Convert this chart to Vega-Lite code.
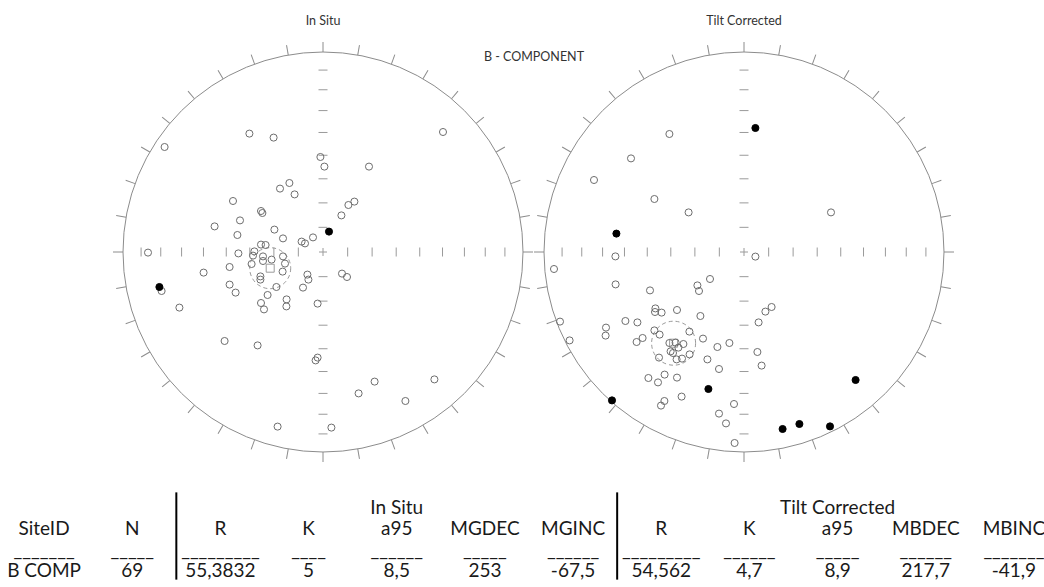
{
  "$schema": "https://vega.github.io/schema/vega-lite/v6.json",
  "padding": 0,
  "background": "white",
  "config": {"view": {"stroke": null}, "font": "Lato"},
  "datasets": {
    "net": [{"part": "primitive"}],
    "ticks": [{"az":0},{"az":10},{"az":20},{"az":30},{"az":40},{"az":50},{"az":60},{"az":70},{"az":80},{"az":90},{"az":100},{"az":110},{"az":120},{"az":130},{"az":140},{"az":150},{"az":160},{"az":170},{"az":180},{"az":190},{"az":200},{"az":210},{"az":220},{"az":230},{"az":240},{"az":250},{"az":260},{"az":270},{"az":280},{"az":290},{"az":300},{"az":310},{"az":320},{"az":330},{"az":340},{"az":350}],
    "grat": [{"r":0.1233},{"r":0.2456},{"r":0.366},{"r":0.4837},{"r":0.5976},{"r":0.7071},{"r":0.8112},{"r":0.9096},{"r":-0.1233},{"r":-0.2456},{"r":-0.366},{"r":-0.4837},{"r":-0.5976},{"r":-0.7071},{"r":-0.8112},{"r":-0.9096}],
    "meanL": [{"x":-0.264,"y":-0.081}],
    "meanR": [{"x":-0.352,"y":-0.456}],
    "insitu": [
      {"x":-0.368,"y":0.592,"t":"open"},{"x":-0.247,"y":0.572,"t":"open"},{"x":-0.792,"y":0.525,"t":"open"},{"x":0.6,"y":0.6,"t":"open"},{"x":-0.013,"y":0.475,"t":"open"},{"x":0.007,"y":0.427,"t":"open"},{"x":0.23,"y":0.427,"t":"open"},{"x":-0.168,"y":0.345,"t":"open"},{"x":-0.215,"y":0.317,"t":"open"},{"x":-0.142,"y":0.288,"t":"open"},{"x":-0.45,"y":0.255,"t":"open"},{"x":0.157,"y":0.252,"t":"open"},{"x":0.127,"y":0.235,"t":"open"},{"x":-0.31,"y":0.205,"t":"open"},{"x":-0.303,"y":0.195,"t":"open"},{"x":0.092,"y":0.183,"t":"open"},{"x":-0.415,"y":0.158,"t":"open"},{"x":-0.542,"y":0.128,"t":"open"},{"x":-0.243,"y":0.112,"t":"open"},{"x":-0.428,"y":0.085,"t":"open"},{"x":-0.2,"y":0.068,"t":"open"},{"x":-0.05,"y":0.073,"t":"open"},{"x":-0.107,"y":0.052,"t":"open"},{"x":-0.09,"y":0.043,"t":"open"},{"x":-0.31,"y":0.037,"t":"open"},{"x":-0.287,"y":0.035,"t":"open"},{"x":-0.875,"y":-0.003,"t":"open"},{"x":-0.423,"y":-0.007,"t":"open"},{"x":-0.343,"y":0.003,"t":"open"},{"x":-0.35,"y":-0.018,"t":"open"},{"x":-0.3,"y":-0.022,"t":"open"},{"x":-0.257,"y":-0.038,"t":"open"},{"x":-0.2,"y":-0.022,"t":"open"},{"x":-0.3,"y":-0.045,"t":"open"},{"x":-0.357,"y":-0.06,"t":"open"},{"x":-0.19,"y":-0.058,"t":"open"},{"x":-0.467,"y":-0.075,"t":"open"},{"x":-0.202,"y":-0.098,"t":"open"},{"x":-0.597,"y":-0.103,"t":"open"},{"x":-0.078,"y":-0.113,"t":"open"},{"x":-0.313,"y":-0.122,"t":"open"},{"x":-0.313,"y":-0.138,"t":"open"},{"x":0.095,"y":-0.108,"t":"open"},{"x":0.12,"y":-0.125,"t":"open"},{"x":-0.073,"y":-0.138,"t":"open"},{"x":-0.233,"y":-0.175,"t":"open"},{"x":-0.1,"y":-0.178,"t":"open"},{"x":-0.467,"y":-0.163,"t":"open"},{"x":-0.437,"y":-0.203,"t":"open"},{"x":-0.807,"y":-0.195,"t":"open"},{"x":-0.277,"y":-0.215,"t":"open"},{"x":-0.182,"y":-0.237,"t":"open"},{"x":-0.183,"y":-0.272,"t":"open"},{"x":-0.31,"y":-0.255,"t":"open"},{"x":-0.295,"y":-0.287,"t":"open"},{"x":-0.027,"y":-0.258,"t":"open"},{"x":-0.718,"y":-0.278,"t":"open"},{"x":-0.492,"y":-0.445,"t":"open"},{"x":-0.327,"y":-0.467,"t":"open"},{"x":-0.027,"y":-0.528,"t":"open"},{"x":-0.037,"y":-0.542,"t":"open"},{"x":0.258,"y":-0.648,"t":"open"},{"x":0.557,"y":-0.637,"t":"open"},{"x":0.178,"y":-0.707,"t":"open"},{"x":0.412,"y":-0.745,"t":"open"},{"x":-0.227,"y":-0.873,"t":"open"},{"x":0.042,"y":-0.878,"t":"open"},
      {"x":0.03,"y":0.102,"t":"filled"},{"x":-0.818,"y":-0.175,"t":"filled"}
    ],
    "tilt": [
      {"x":-0.373,"y":0.59,"t":"open"},{"x":-0.565,"y":0.468,"t":"open"},{"x":-0.75,"y":0.36,"t":"open"},{"x":-0.448,"y":0.265,"t":"open"},{"x":-0.277,"y":0.198,"t":"open"},{"x":0.435,"y":0.198,"t":"open"},{"x":-0.643,"y":-0.022,"t":"open"},{"x":0.057,"y":-0.023,"t":"open"},{"x":-0.95,"y":-0.085,"t":"open"},{"x":-0.642,"y":-0.162,"t":"open"},{"x":-0.17,"y":-0.135,"t":"open"},{"x":-0.233,"y":-0.167,"t":"open"},{"x":-0.225,"y":-0.195,"t":"open"},{"x":-0.47,"y":-0.192,"t":"open"},{"x":0.138,"y":-0.275,"t":"open"},{"x":0.107,"y":-0.298,"t":"open"},{"x":-0.443,"y":-0.282,"t":"open"},{"x":-0.445,"y":-0.3,"t":"open"},{"x":-0.412,"y":-0.303,"t":"open"},{"x":-0.335,"y":-0.29,"t":"open"},{"x":-0.218,"y":-0.32,"t":"open"},{"x":0.073,"y":-0.352,"t":"open"},{"x":-0.92,"y":-0.348,"t":"open"},{"x":-0.593,"y":-0.345,"t":"open"},{"x":-0.533,"y":-0.352,"t":"open"},{"x":-0.69,"y":-0.378,"t":"open"},{"x":-0.692,"y":-0.418,"t":"open"},{"x":-0.448,"y":-0.392,"t":"open"},{"x":-0.422,"y":-0.413,"t":"open"},{"x":-0.273,"y":-0.398,"t":"open"},{"x":-0.872,"y":-0.442,"t":"open"},{"x":-0.507,"y":-0.43,"t":"open"},{"x":-0.537,"y":-0.45,"t":"open"},{"x":-0.205,"y":-0.433,"t":"open"},{"x":-0.373,"y":-0.455,"t":"open"},{"x":-0.342,"y":-0.453,"t":"open"},{"x":-0.303,"y":-0.46,"t":"open"},{"x":-0.328,"y":-0.478,"t":"open"},{"x":-0.367,"y":-0.497,"t":"open"},{"x":-0.073,"y":-0.455,"t":"open"},{"x":-0.133,"y":-0.475,"t":"open"},{"x":-0.272,"y":-0.512,"t":"open"},{"x":-0.425,"y":-0.528,"t":"open"},{"x":-0.337,"y":-0.537,"t":"open"},{"x":-0.31,"y":-0.533,"t":"open"},{"x":-0.183,"y":-0.537,"t":"open"},{"x":0.067,"y":-0.5,"t":"open"},{"x":0.088,"y":-0.568,"t":"open"},{"x":-0.125,"y":-0.585,"t":"open"},{"x":-0.478,"y":-0.63,"t":"open"},{"x":-0.397,"y":-0.613,"t":"open"},{"x":-0.43,"y":-0.652,"t":"open"},{"x":-0.335,"y":-0.628,"t":"open"},{"x":-0.312,"y":-0.723,"t":"open"},{"x":-0.398,"y":-0.745,"t":"open"},{"x":-0.415,"y":-0.768,"t":"open"},{"x":-0.05,"y":-0.76,"t":"open"},{"x":-0.125,"y":-0.808,"t":"open"},{"x":-0.09,"y":-0.857,"t":"open"},{"x":-0.047,"y":-0.955,"t":"open"},{"x":-0.355,"y":-0.505,"t":"open"},
      {"x":0.057,"y":0.62,"t":"filled"},{"x":-0.638,"y":0.092,"t":"filled"},{"x":-0.178,"y":-0.685,"t":"filled"},{"x":-0.66,"y":-0.742,"t":"filled"},{"x":0.558,"y":-0.64,"t":"filled"},{"x":0.277,"y":-0.86,"t":"filled"},{"x":0.193,"y":-0.885,"t":"filled"},{"x":0.43,"y":-0.872,"t":"filled"}
    ],
    "table": [
      {"col":"c5","row":"group","txt":"In Situ"},{"col":"c10","row":"group","txt":"Tilt Corrected"},
      {"col":"c1","row":"header","txt":"SiteID"},{"col":"c2","row":"header","txt":"N"},{"col":"c3","row":"header","txt":"R"},{"col":"c4","row":"header","txt":"K"},{"col":"c5","row":"header","txt":"a95"},{"col":"c6","row":"header","txt":"MGDEC"},{"col":"c7","row":"header","txt":"MGINC"},{"col":"c8","row":"header","txt":"R"},{"col":"c9","row":"header","txt":"K"},{"col":"c10","row":"header","txt":"a95"},{"col":"c11","row":"header","txt":"MBDEC"},{"col":"c12","row":"header","txt":"MBINC"},
      {"col":"c1","row":"line","txt":"_______"},{"col":"c2","row":"line","txt":"_____"},{"col":"c3","row":"line","txt":"_________"},{"col":"c4","row":"line","txt":"____"},{"col":"c5","row":"line","txt":"______"},{"col":"c6","row":"line","txt":"_____"},{"col":"c7","row":"line","txt":"______"},{"col":"c8","row":"line","txt":"_________"},{"col":"c9","row":"line","txt":"______"},{"col":"c10","row":"line","txt":"_____"},{"col":"c11","row":"line","txt":"______"},{"col":"c12","row":"line","txt":"_______"},
      {"col":"c1","row":"value","txt":"B COMP"},{"col":"c2","row":"value","txt":"69"},{"col":"c3","row":"value","txt":"55,3832"},{"col":"c4","row":"value","txt":"5"},{"col":"c5","row":"value","txt":"8,5"},{"col":"c6","row":"value","txt":"253"},{"col":"c7","row":"value","txt":"-67,5"},{"col":"c8","row":"value","txt":"54,562"},{"col":"c9","row":"value","txt":"4,7"},{"col":"c10","row":"value","txt":"8,9"},{"col":"c11","row":"value","txt":"217,7"},{"col":"c12","row":"value","txt":"-41,9"}
    ],
    "vlines": [{"col":"c3"},{"col":"c8"}]
  },
  "spacing": 0,
  "vconcat": [
    {
      "bounds": "flush",
      "spacing": 1,
      "hconcat": [
        {
          "width": 533, "height": 462,
          "layer": [
            {"data": {"name": "net"}, "mark": {"type": "point", "shape": "circle", "filled": false, "stroke": "#8c8c8c", "strokeWidth": 1, "size": 160000, "opacity": 1},
             "encoding": {"x": {"datum": 0, "type": "quantitative", "scale": {"domain": [-1.615, 1.05], "nice": false, "zero": false}, "axis": null},
                          "y": {"datum": 0, "type": "quantitative", "scale": {"domain": [-1.05, 1.26], "nice": false, "zero": false}, "axis": null}}},
            {"data": {"name": "ticks"}, "mark": {"type": "point", "shape": "M0,-1L0,-1.05", "filled": false, "stroke": "#8c8c8c", "strokeWidth": 1, "size": 160000, "opacity": 1},
             "encoding": {"x": {"datum": 0, "type": "quantitative", "scale": {"domain": [-1.615, 1.05], "nice": false, "zero": false}, "axis": null},
                          "y": {"datum": 0, "type": "quantitative", "scale": {"domain": [-1.05, 1.26], "nice": false, "zero": false}, "axis": null},
                          "angle": {"field": "az", "type": "quantitative", "scale": {"domain": [0, 360], "range": [0, 360]}, "legend": null}}},
            {"data": {"name": "grat"}, "mark": {"type": "point", "shape": "stroke", "filled": false, "stroke": "#9a9a9a", "strokeWidth": 1, "size": 81, "opacity": 1},
             "encoding": {"x": {"datum": 0, "type": "quantitative", "scale": {"domain": [-1.615, 1.05], "nice": false, "zero": false}, "axis": null},
                          "y": {"field": "r", "type": "quantitative", "scale": {"domain": [-1.05, 1.26], "nice": false, "zero": false}, "axis": null}}},
            {"data": {"name": "grat"}, "mark": {"type": "point", "shape": "stroke", "filled": false, "stroke": "#9a9a9a", "strokeWidth": 1, "size": 81, "opacity": 1, "angle": 90},
             "encoding": {"x": {"field": "r", "type": "quantitative", "scale": {"domain": [-1.615, 1.05], "nice": false, "zero": false}, "axis": null},
                          "y": {"datum": 0, "type": "quantitative", "scale": {"domain": [-1.05, 1.26], "nice": false, "zero": false}, "axis": null}}},
            {"data": {"name": "net"}, "mark": {"type": "point", "shape": "M-1,0L1,0M0,-1L0,1", "filled": false, "stroke": "#9a9a9a", "strokeWidth": 1, "size": 64, "opacity": 1},
             "encoding": {"x": {"datum": 0, "type": "quantitative", "scale": {"domain": [-1.615, 1.05], "nice": false, "zero": false}, "axis": null},
                          "y": {"datum": 0, "type": "quantitative", "scale": {"domain": [-1.05, 1.26], "nice": false, "zero": false}, "axis": null}}},
            {"data": {"name": "meanL"}, "mark": {"type": "point", "shape": "circle", "filled": false, "stroke": "#9a9a9a", "strokeWidth": 1, "strokeDash": [4, 3], "size": 1681, "opacity": 1},
             "encoding": {"x": {"field": "x", "type": "quantitative", "scale": {"domain": [-1.615, 1.05], "nice": false, "zero": false}, "axis": null},
                          "y": {"field": "y", "type": "quantitative", "scale": {"domain": [-1.05, 1.26], "nice": false, "zero": false}, "axis": null}}},
            {"data": {"name": "meanL"}, "mark": {"type": "point", "shape": "square", "filled": false, "stroke": "#9a9a9a", "strokeWidth": 1, "size": 64, "opacity": 1},
             "encoding": {"x": {"field": "x", "type": "quantitative", "scale": {"domain": [-1.615, 1.05], "nice": false, "zero": false}, "axis": null},
                          "y": {"field": "y", "type": "quantitative", "scale": {"domain": [-1.05, 1.26], "nice": false, "zero": false}, "axis": null}}},
            {"data": {"name": "insitu"}, "mark": {"type": "point", "shape": "circle", "filled": true, "strokeWidth": 1, "size": 50, "opacity": 1},
             "encoding": {"x": {"field": "x", "type": "quantitative", "scale": {"domain": [-1.615, 1.05], "nice": false, "zero": false}, "axis": null},
                          "y": {"field": "y", "type": "quantitative", "scale": {"domain": [-1.05, 1.26], "nice": false, "zero": false}, "axis": null},
                          "fill": {"field": "t", "type": "nominal", "scale": {"domain": ["open", "filled"], "range": ["transparent", "#000000"]}, "legend": null},
                          "stroke": {"field": "t", "type": "nominal", "scale": {"domain": ["open", "filled"], "range": ["#6e6e6e", "#000000"]}, "legend": null}}},
            {"data": {"name": "net"}, "mark": {"type": "text", "fontSize": 12.5, "color": "#333333", "font": "Lato"},
             "encoding": {"x": {"datum": 0, "type": "quantitative", "scale": {"domain": [-1.615, 1.05], "nice": false, "zero": false}, "axis": null},
                          "y": {"datum": 1.1535, "type": "quantitative", "scale": {"domain": [-1.05, 1.26], "nice": false, "zero": false}, "axis": null},
                          "text": {"value": "In Situ"}}},
            {"data": {"name": "net"}, "mark": {"type": "text", "fontSize": 12.5, "color": "#333333", "font": "Lato"},
             "encoding": {"x": {"datum": 1.055, "type": "quantitative", "scale": {"domain": [-1.615, 1.05], "nice": false, "zero": false}, "axis": null},
                          "y": {"datum": 0.9735, "type": "quantitative", "scale": {"domain": [-1.05, 1.26], "nice": false, "zero": false}, "axis": null},
                          "text": {"value": "B - COMPONENT"}}}
          ]
        },
        {
          "width": 420, "height": 462,
          "layer": [
            {"data": {"name": "net"}, "mark": {"type": "point", "shape": "circle", "filled": false, "stroke": "#8c8c8c", "strokeWidth": 1, "size": 160000, "opacity": 1},
             "encoding": {"x": {"datum": 0, "type": "quantitative", "scale": {"domain": [-1.05, 1.05], "nice": false, "zero": false}, "axis": null},
                          "y": {"datum": 0, "type": "quantitative", "scale": {"domain": [-1.05, 1.26], "nice": false, "zero": false}, "axis": null}}},
            {"data": {"name": "ticks"}, "mark": {"type": "point", "shape": "M0,-1L0,-1.05", "filled": false, "stroke": "#8c8c8c", "strokeWidth": 1, "size": 160000, "opacity": 1},
             "encoding": {"x": {"datum": 0, "type": "quantitative", "scale": {"domain": [-1.05, 1.05], "nice": false, "zero": false}, "axis": null},
                          "y": {"datum": 0, "type": "quantitative", "scale": {"domain": [-1.05, 1.26], "nice": false, "zero": false}, "axis": null},
                          "angle": {"field": "az", "type": "quantitative", "scale": {"domain": [0, 360], "range": [0, 360]}, "legend": null}}},
            {"data": {"name": "grat"}, "mark": {"type": "point", "shape": "stroke", "filled": false, "stroke": "#9a9a9a", "strokeWidth": 1, "size": 81, "opacity": 1},
             "encoding": {"x": {"datum": 0, "type": "quantitative", "scale": {"domain": [-1.05, 1.05], "nice": false, "zero": false}, "axis": null},
                          "y": {"field": "r", "type": "quantitative", "scale": {"domain": [-1.05, 1.26], "nice": false, "zero": false}, "axis": null}}},
            {"data": {"name": "grat"}, "mark": {"type": "point", "shape": "stroke", "filled": false, "stroke": "#9a9a9a", "strokeWidth": 1, "size": 81, "opacity": 1, "angle": 90},
             "encoding": {"x": {"field": "r", "type": "quantitative", "scale": {"domain": [-1.05, 1.05], "nice": false, "zero": false}, "axis": null},
                          "y": {"datum": 0, "type": "quantitative", "scale": {"domain": [-1.05, 1.26], "nice": false, "zero": false}, "axis": null}}},
            {"data": {"name": "net"}, "mark": {"type": "point", "shape": "M-1,0L1,0M0,-1L0,1", "filled": false, "stroke": "#9a9a9a", "strokeWidth": 1, "size": 64, "opacity": 1},
             "encoding": {"x": {"datum": 0, "type": "quantitative", "scale": {"domain": [-1.05, 1.05], "nice": false, "zero": false}, "axis": null},
                          "y": {"datum": 0, "type": "quantitative", "scale": {"domain": [-1.05, 1.26], "nice": false, "zero": false}, "axis": null}}},
            {"data": {"name": "meanR"}, "mark": {"type": "point", "shape": "circle", "filled": false, "stroke": "#9a9a9a", "strokeWidth": 1, "strokeDash": [4, 3], "size": 1936, "opacity": 1},
             "encoding": {"x": {"field": "x", "type": "quantitative", "scale": {"domain": [-1.05, 1.05], "nice": false, "zero": false}, "axis": null},
                          "y": {"field": "y", "type": "quantitative", "scale": {"domain": [-1.05, 1.26], "nice": false, "zero": false}, "axis": null}}},
            {"data": {"name": "meanR"}, "mark": {"type": "point", "shape": "square", "filled": false, "stroke": "#9a9a9a", "strokeWidth": 1, "size": 64, "opacity": 1},
             "encoding": {"x": {"field": "x", "type": "quantitative", "scale": {"domain": [-1.05, 1.05], "nice": false, "zero": false}, "axis": null},
                          "y": {"field": "y", "type": "quantitative", "scale": {"domain": [-1.05, 1.26], "nice": false, "zero": false}, "axis": null}}},
            {"data": {"name": "tilt"}, "mark": {"type": "point", "shape": "circle", "filled": true, "strokeWidth": 1, "size": 50, "opacity": 1},
             "encoding": {"x": {"field": "x", "type": "quantitative", "scale": {"domain": [-1.05, 1.05], "nice": false, "zero": false}, "axis": null},
                          "y": {"field": "y", "type": "quantitative", "scale": {"domain": [-1.05, 1.26], "nice": false, "zero": false}, "axis": null},
                          "fill": {"field": "t", "type": "nominal", "scale": {"domain": ["open", "filled"], "range": ["transparent", "#000000"]}, "legend": null},
                          "stroke": {"field": "t", "type": "nominal", "scale": {"domain": ["open", "filled"], "range": ["#6e6e6e", "#000000"]}, "legend": null}}},
            {"data": {"name": "net"}, "mark": {"type": "text", "fontSize": 12.5, "color": "#333333", "font": "Lato"},
             "encoding": {"x": {"datum": 0, "type": "quantitative", "scale": {"domain": [-1.05, 1.05], "nice": false, "zero": false}, "axis": null},
                          "y": {"datum": 1.1535, "type": "quantitative", "scale": {"domain": [-1.05, 1.26], "nice": false, "zero": false}, "axis": null},
                          "text": {"value": "Tilt Corrected"}}}
          ]
        }
      ]
    },
    {
      "width": 1044, "height": 125,
      "layer": [
        {"data": {"name": "table"}, "mark": {"type": "text", "font": "Lato", "fontSize": 19, "color": "#1a1a1a", "baseline": "middle"},
         "encoding": {"x": {"field": "col", "type": "nominal", "scale": {"type": "band", "domain": ["c1","c2","c3","c4","c5","c6","c7","c8","c9","c10","c11","c12"], "range": [0, 1058], "paddingInner": 0, "paddingOuter": 0}, "axis": null},
                      "y": {"field": "row", "type": "nominal", "scale": {"type": "point", "domain": ["group", "header", "line", "value"], "range": [34, 117]}, "axis": null},
                      "text": {"field": "txt", "type": "nominal"}}},
        {"data": {"name": "vlines"}, "mark": {"type": "rule", "color": "#000000", "strokeWidth": 2, "yOffset": -16, "y2Offset": 9},
         "encoding": {"x": {"field": "col", "type": "nominal", "bandPosition": 0, "scale": {"type": "band", "domain": ["c1","c2","c3","c4","c5","c6","c7","c8","c9","c10","c11","c12"], "range": [0, 1058], "paddingInner": 0, "paddingOuter": 0}, "axis": null},
                      "y": {"datum": "group", "type": "nominal", "scale": {"type": "point", "domain": ["group", "header", "line", "value"], "range": [34, 117]}, "axis": null},
                      "y2": {"datum": "value"}}}
      ]
    }
  ]
}
